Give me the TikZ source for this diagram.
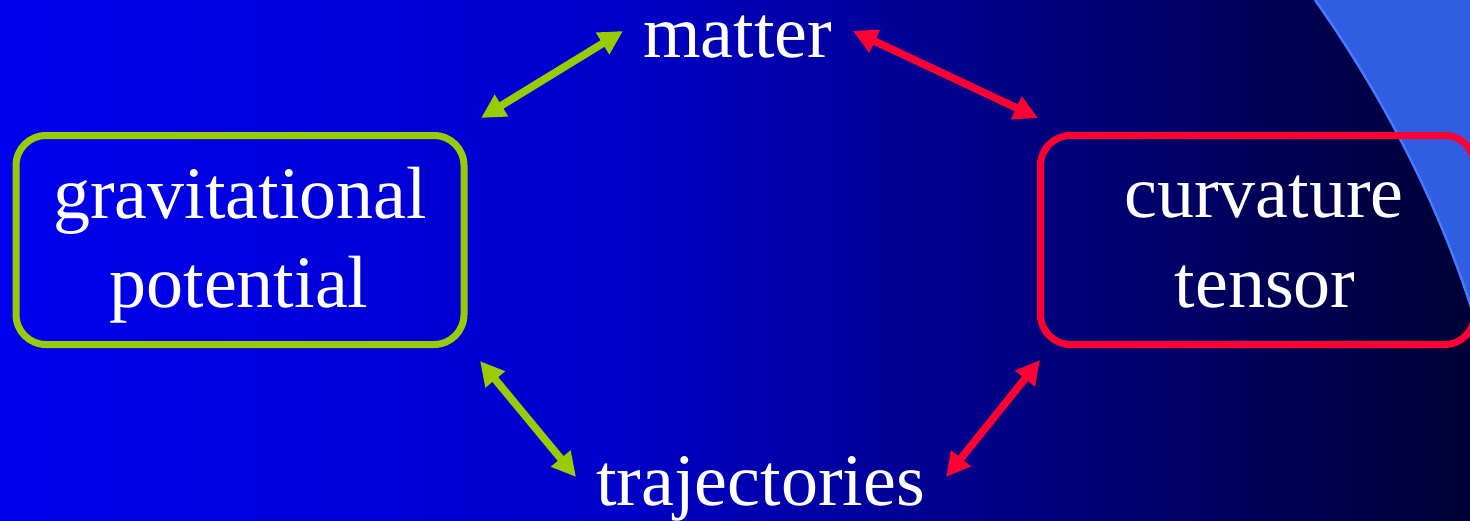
\documentclass[tikz,border=0pt]{standalone}
\usepackage{fontspec}
\setmainfont{Liberation Serif}
\usetikzlibrary{arrows.meta}
\definecolor{pgreen}{RGB}{153,204,0}
\definecolor{pred}{RGB}{255,0,51}
\definecolor{accentfill}{RGB}{48,94,226}
\definecolor{accentedge}{RGB}{72,122,255}
\pgfdeclarehorizontalshading{bgshade}{100bp}{rgb(0bp)=(0,0,0.933); rgb(25bp)=(0,0,0.933); rgb(45.5bp)=(0,0,0.80); rgb(55.5bp)=(0,0,0.59); rgb(75bp)=(0,0,0.21); rgb(100bp)=(0,0,0.21)}
\tikzset{
  boxbase/.style={rectangle, rounded corners=15pt, line width=3.5pt, minimum height=104.5pt, inner sep=0pt},
  gbox/.style={boxbase, draw=pgreen, minimum width=224pt},
  rbox/.style={boxbase, draw=pred, minimum width=217pt},
  lbl/.style={text=white, font=\fontsize{37}{44}\selectfont, inner sep=0pt, anchor=base},
  dblarrow/.style={line width=3.8pt, {Triangle[length=12pt,width=12pt]}-{Triangle[length=12pt,width=12pt]}},
  dblg/.style={dblarrow, draw=pgreen, fill=pgreen},
  dblr/.style={dblarrow, draw=pred, fill=pred}
}
\begin{document}
\begin{tikzpicture}[x=0.5pt,y=-0.5pt]
\useasboundingbox (0,0) rectangle (1470,520);
\clip (0,0) rectangle (1470,520);
% background gradient
\shade[shading=bgshade] (0,0) rectangle (1470,520);
% light accent shape at top right
\fill[accentfill] (1315,0) .. controls (1375,85) and (1440,200) .. (1478,330) -- (1480,0) -- cycle;
\draw[accentedge, line width=1.2pt] (1315,0) .. controls (1375,85) and (1440,200) .. (1478,330);
% boxes
\node[gbox] (gp) at (240,240) {};
\node[rbox] (ct) at (1257.5,240) {};
% labels
\node[lbl] (gpa) at (240,218) {gravitational};
\node[lbl] (gpb) at (239,307) {potential};
\node[lbl] (cta) at (1264,217) {curvature};
\node[lbl] (ctb) at (1265,307) {tensor};
\node[lbl] (matter) at (737.5,57) {matter};
\node[lbl] (traj) at (760.5,505) {trajectories};
% arrow end points
\coordinate (g1a) at (481,118);
\coordinate (g1b) at (623,31);
\coordinate (r1a) at (853,31);
\coordinate (r1b) at (1038,118);
\coordinate (g2a) at (480,361);
\coordinate (g2b) at (576,477);
\coordinate (r2a) at (1040,360);
\coordinate (r2b) at (946,477);
% arrows
\draw[dblg] (g1a) -- (g1b);
\draw[dblr] (r1a) -- (r1b);
\draw[dblg] (g2a) -- (g2b);
\draw[dblr] (r2a) -- (r2b);
\end{tikzpicture}
\end{document}
